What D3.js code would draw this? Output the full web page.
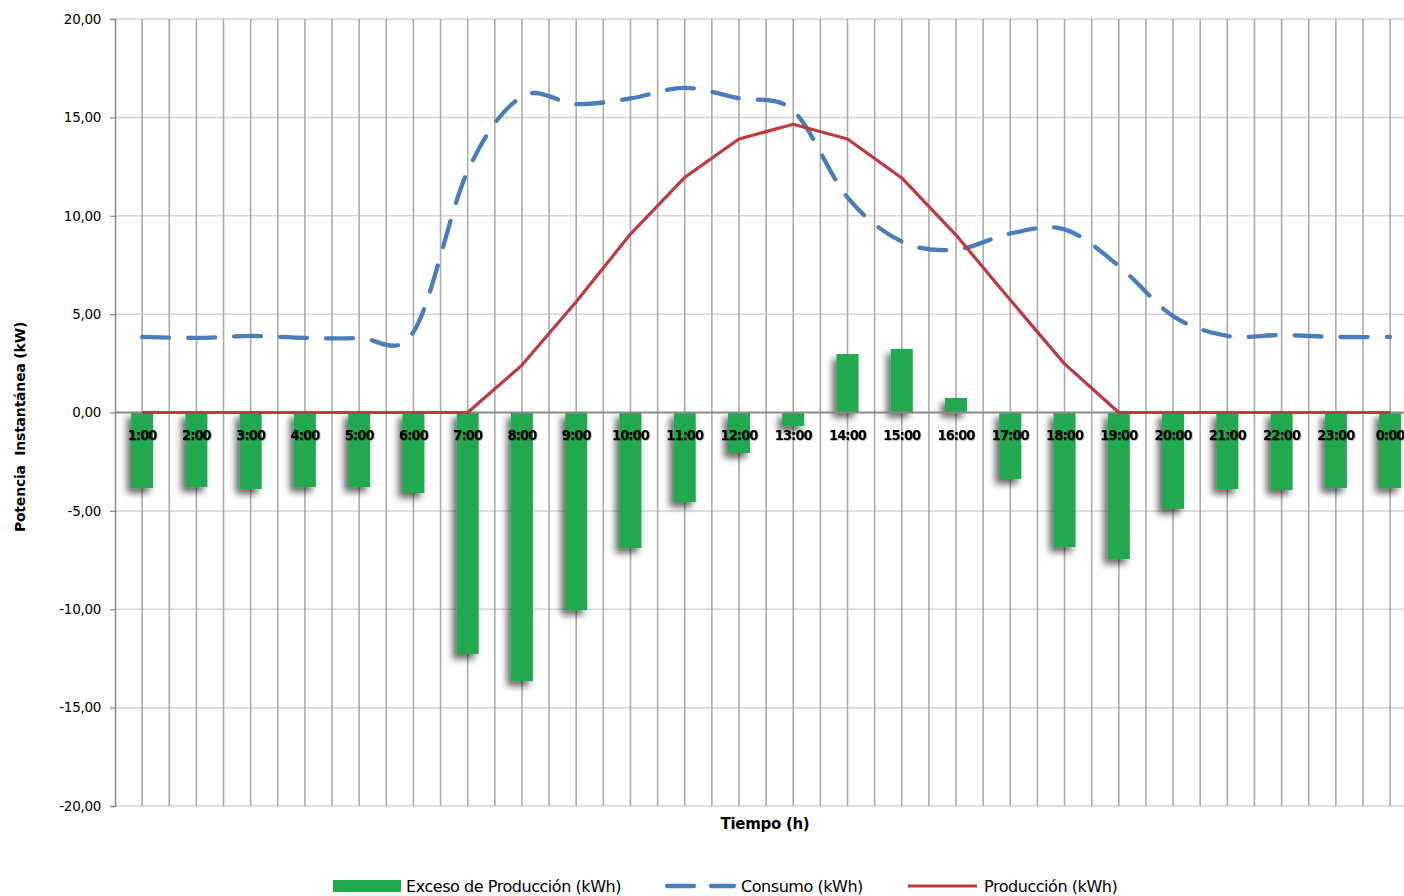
<!DOCTYPE html>
<html>
<head>
<meta charset="utf-8">
<script src="https://cdn.jsdelivr.net/npm/d3@7/dist/d3.min.js"></script>
<style>
  html, body { margin: 0; padding: 0; background: #fff; }
  svg { display: block; }
  text { font-family: "DejaVu Sans", sans-serif; fill: #000; }
  .cat { font-family: "DejaVu Sans Condensed", "DejaVu Sans", sans-serif; font-stretch: condensed; }
</style>
</head>
<body>
<svg id="chart" width="1404" height="896"></svg>
<script>
// Hourly categories
const horas = ["1:00","2:00","3:00","4:00","5:00","6:00","7:00","8:00","9:00","10:00","11:00","12:00",
               "13:00","14:00","15:00","16:00","17:00","18:00","19:00","20:00","21:00","22:00","23:00","0:00"];

// Production surplus (production - consumption), kWh
const exceso = [-3.84,-3.79,-3.89,-3.79,-3.79,-4.09,-12.27,-13.65,-10.04,-6.89,-4.55,-2.06,
                -0.69,2.97,3.23,0.74,-3.38,-6.84,-7.45,-4.90,-3.89,-3.94,-3.84,-3.84];

// Consumption, kWh
const consumo = [3.84,3.79,3.89,3.79,3.79,4.09,12.27,16.06,15.67,15.96,16.50,15.96,
                 15.34,10.93,8.69,8.28,9.10,9.31,7.45,4.90,3.89,3.94,3.84,3.84];

// Photovoltaic production, kWh
const produccion = [0,0,0,0,0,0,0,2.41,5.63,9.07,11.95,13.90,
                    14.65,13.90,11.92,9.02,5.72,2.47,0,0,0,0,0,0];

// Value axis ticks
const yTicks = [-20,-15,-10,-5,0,5,10,15,20];

(function () {
const svg = d3.select("#chart");

const pLeft = 115, pTop = 19, pBottom = 806;
const step = 54.26;
const pRight = pLeft + step * horas.length;

const x = d3.scaleBand().domain(horas).range([pLeft, pRight]).padding(0);
const y = d3.scaleLinear().domain([-20, 20]).range([pBottom, pTop]);
const fmt = v => d3.format(".2f")(v).replace(".", ",").replace("\u2212", "-");

const defs = svg.append("defs");
const sh = defs.append("filter").attr("id", "barShadow")
  .attr("x", "-80%").attr("y", "-20%").attr("width", "240%").attr("height", "150%");
sh.append("feDropShadow").attr("dx", -4).attr("dy", 5).attr("stdDeviation", 3.5)
  .attr("flood-color", "#000").attr("flood-opacity", 0.6);
const ts = defs.append("filter").attr("id", "txtShadow")
  .attr("x", "-20%").attr("y", "-30%").attr("width", "140%").attr("height", "160%");
ts.append("feDropShadow").attr("dx", 0.6).attr("dy", 0.6).attr("stdDeviation", 0.6)
  .attr("flood-color", "#000").attr("flood-opacity", 0.45);

// Horizontal gridlines
svg.append("g").selectAll("line").data(yTicks.filter(d => d !== 0)).join("line")
  .attr("x1", pLeft).attr("x2", pRight)
  .attr("y1", d => y(d)).attr("y2", d => y(d))
  .attr("stroke", "#d4d4d4").attr("stroke-width", 1.5);

// Vertical gridlines at every category boundary and centre
const vLines = [];
horas.forEach(h => { vLines.push(x(h)); vLines.push(x(h) + x.bandwidth() / 2); });
svg.append("g").selectAll("line").data(vLines.slice(1)).join("line")
  .attr("x1", d => d).attr("x2", d => d)
  .attr("y1", pTop).attr("y2", pBottom)
  .attr("stroke", "#ababab").attr("stroke-width", 1.6);

// Value axis
const yAxis = svg.append("g").attr("transform", `translate(${pLeft},0)`)
  .call(d3.axisLeft(y).tickValues(yTicks).tickFormat(fmt).tickSize(5).tickPadding(9));
yAxis.select(".domain").attr("stroke", "#8a8a8a").attr("stroke-width", 1.5);
yAxis.selectAll(".tick line").attr("stroke", "#8a8a8a").attr("stroke-width", 1.2);
yAxis.selectAll(".tick text").attr("font-size", 13.5).attr("font-family", "DejaVu Sans")
  .attr("letter-spacing", -0.3).attr("fill", "#000");

// Surplus bars
const barW = x.bandwidth() * 0.405;
svg.append("g").attr("filter", "url(#barShadow)").selectAll("rect").data(exceso).join("rect")
  .attr("x", (d, i) => x(horas[i]) + x.bandwidth() / 2 - barW / 2)
  .attr("width", barW)
  .attr("y", d => y(Math.max(0, d)))
  .attr("height", d => Math.abs(y(d) - y(0)))
  .attr("fill", "#22a84f");

// Category axis line at zero
svg.append("line").attr("x1", pLeft).attr("x2", pRight)
  .attr("y1", y(0)).attr("y2", y(0))
  .attr("stroke", "#8a8a8a").attr("stroke-width", 1.8);

const cx = (d, i) => x(horas[i]) + x.bandwidth() / 2;

// Consumption: smoothed dashed line
svg.append("path").datum(consumo)
  .attr("d", d3.line().x(cx).y(d => y(d)).curve(d3.curveCardinal.tension(0)))
  .attr("fill", "none").attr("stroke", "#4a7dba").attr("stroke-width", 4.3)
  .attr("stroke-dasharray", "27,19").attr("stroke-linecap", "round");

// Production: straight line
svg.append("path").datum(produccion)
  .attr("d", d3.line().x(cx).y(d => y(d)))
  .attr("fill", "none").attr("stroke", "#bd3a41").attr("stroke-width", 3.2)
  .attr("stroke-linejoin", "round");

// Category labels
svg.append("g").selectAll("text").data(horas).join("text")
  .attr("class", "cat")
  .attr("x", h => x(h) + x.bandwidth() / 2)
  .attr("y", y(0) + 27)
  .attr("text-anchor", "middle")
  .attr("font-size", 14.5).attr("font-weight", "bold").attr("letter-spacing", -0.9)
  .attr("filter", "url(#txtShadow)")
  .text(h => h);

// Axis titles
svg.append("text").attr("x", 765).attr("y", 829).attr("text-anchor", "middle")
  .attr("font-size", 15).attr("font-weight", "bold").attr("letter-spacing", -0.3)
  .text("Tiempo (h)");
svg.append("text").attr("transform", "translate(25,427) rotate(-90)")
  .attr("text-anchor", "middle")
  .attr("font-size", 14).attr("font-weight", "bold").attr("letter-spacing", -0.2)
  .attr("xml:space", "preserve")
  .text("Potencia  Instantánea (kW)");

// Legend
const lg = svg.append("g").attr("font-size", 16);
lg.append("rect").attr("x", 333).attr("y", 880).attr("width", 68).attr("height", 12).attr("fill", "#22a84f");
lg.append("text").attr("x", 406).attr("y", 892).attr("letter-spacing", -0.45).text("Exceso de Producción (kWh)");
lg.append("line").attr("x1", 667).attr("x2", 734).attr("y1", 886).attr("y2", 886)
  .attr("stroke", "#4a7dba").attr("stroke-width", 4.3).attr("stroke-linecap", "round")
  .attr("stroke-dasharray", "27,17");
lg.append("text").attr("x", 741).attr("y", 892).attr("letter-spacing", -0.45).text("Consumo (kWh)");
lg.append("line").attr("x1", 908).attr("x2", 977).attr("y1", 886).attr("y2", 886)
  .attr("stroke", "#bd3a41").attr("stroke-width", 3.2);
lg.append("text").attr("x", 984).attr("y", 892).attr("letter-spacing", -0.45).text("Producción (kWh)");
})();
</script>
</body>
</html>
